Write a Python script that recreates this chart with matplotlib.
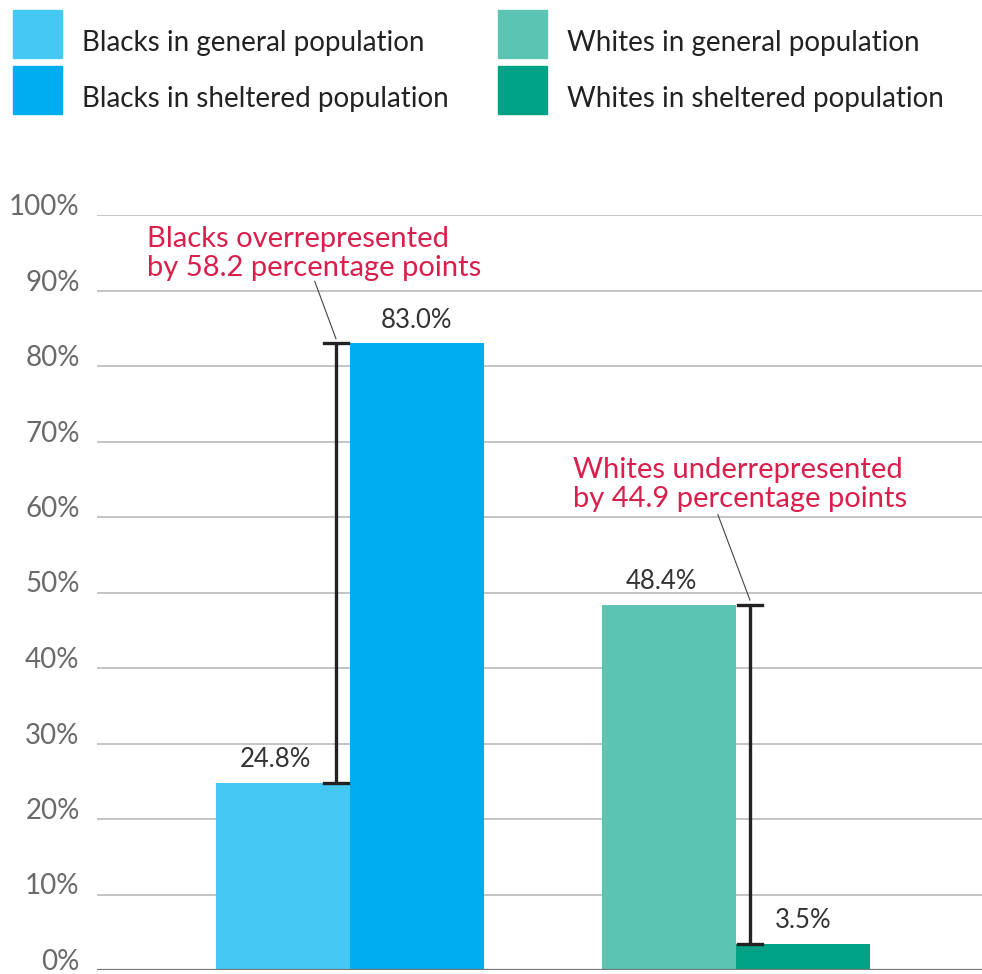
import matplotlib
matplotlib.use('Agg')
import matplotlib.pyplot as plt
from matplotlib.patches import Rectangle

plt.rcParams['font.family'] = ['Lato', 'DejaVu Sans']

# data
groups = ['Blacks', 'Whites']
general = [24.8, 48.4]
sheltered = [83.0, 3.5]
gaps = ['58.2', '44.9']
notes = ['overrepresented', 'underrepresented']
legend_labels = ['Blacks in general population', 'Blacks in sheltered population',
                 'Whites in general population', 'Whites in sheltered population']
yticks = list(range(0, 101, 10))

colors_general = ['#45c8f3', '#5cc4b3']
colors_sheltered = ['#00aeef', '#00a285']
red = '#d91f4c'

W, H = 982, 974
fig = plt.figure(figsize=(W / 100, H / 100), dpi=100)
ax = fig.add_axes([97 / W, 4 / H, 885 / W, 755 / H])

w = 0.347
x = [0, 1]
for i in range(len(groups)):
    ax.bar(x[i] - w / 2, general[i], width=w, color=colors_general[i], zorder=2)
    ax.bar(x[i] + w / 2, sheltered[i], width=w, color=colors_sheltered[i], zorder=2)
    ax.text(x[i] - w / 2 - 0.02, general[i] + 1.4, f'{general[i]:.1f}%', ha='center', va='bottom',
            fontsize=18.5, color='#333333')
    ax.text(x[i] + w / 2, sheltered[i] + 1.4, f'{sheltered[i]:.1f}%', ha='center', va='bottom',
            fontsize=18.5, color='#333333')

# brackets showing the gap
bx = [x[0] - 0.036, x[1] + 0.036]
for i in range(len(groups)):
    lo, hi = sorted([general[i], sheltered[i]])
    ax.plot([bx[i], bx[i]], [lo, hi], color='#222222', lw=2.4, zorder=3, solid_capstyle='butt')
    for yy in (lo, hi):
        ax.plot([bx[i] - 0.032, bx[i] + 0.032], [yy, yy], color='#222222', lw=2.4, zorder=3)

# red notes with leader lines
note_pos = [(-0.526, 98.6), (0.578, 68.0)]
leader_start = [(-0.091, 91.2), (0.953, 60.3)]
for i in range(len(groups)):
    ax.text(note_pos[i][0], note_pos[i][1], f'{groups[i]} {notes[i]}\nby {gaps[i]} percentage points',
            ha='left', va='top', fontsize=21, color=red, linespacing=1.15)
    top = max(general[i], sheltered[i])
    ax.plot([leader_start[i][0], bx[i]], [leader_start[i][1], top + 0.6], color='#444444', lw=0.8, zorder=3)

ax.set_xlim(-0.655, 1.637)
ax.set_ylim(0, 100)
ax.set_yticks(yticks)
ax.set_yticklabels([f'{t}%' for t in yticks])
ax.tick_params(axis='y', length=0, pad=12.5, labelsize=20, labelcolor='#6a6a6a')
ax.tick_params(axis='x', length=0, labelbottom=False)
for lab in ax.get_yticklabels():
    lab.set_verticalalignment('baseline')
ax.grid(axis='y', color='#c4c4c4', lw=1.4, zorder=0)
for s in ax.spines.values():
    s.set_visible(False)
ax.axhline(0, color='#777777', lw=1.6, zorder=3)

# legend drawn as swatches + text
sw_x = [13, 498]
sw_y = [10, 66]
leg_colors = [colors_general[0], colors_sheltered[0], colors_general[1], colors_sheltered[1]]
for k, lab in enumerate(legend_labels):
    cx = sw_x[k // 2]
    cy = sw_y[k % 2]
    fig.patches.append(Rectangle((cx / W, 1 - (cy + 48) / H), 49 / W, 48 / H,
                                 transform=fig.transFigure, color=leg_colors[k], figure=fig))
    fig.text((cx + 69) / W, 1 - (cy + 33) / H, lab, ha='left', va='center',
             fontsize=20, color='#222222')

fig.savefig('out.png', dpi=100)
